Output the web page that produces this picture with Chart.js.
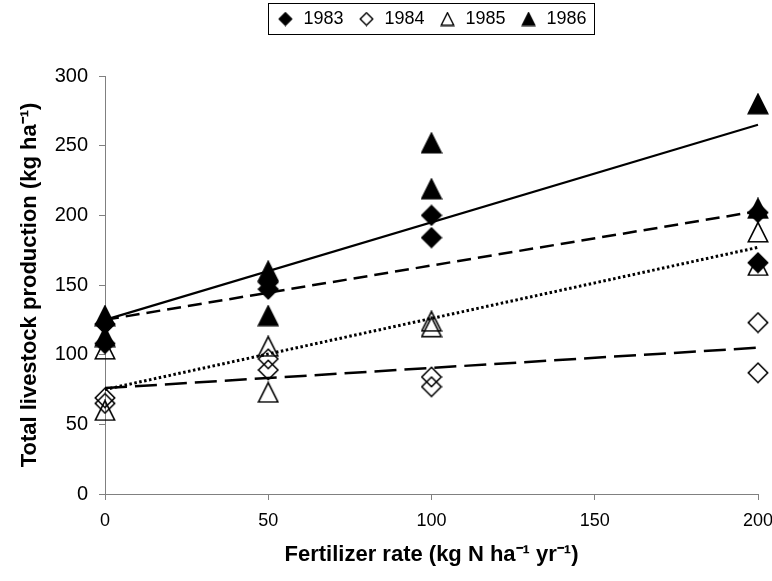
<!DOCTYPE html>
<html>
<head>
<meta charset="utf-8">
<script src="https://cdn.jsdelivr.net/npm/chart.js@4"></script>
<style>
html,body{margin:0;padding:0;background:#fff;}
#wrap{width:772px;height:581px;position:relative;}
</style>
</head>
<body>
<div id="wrap"><canvas id="c" width="772" height="581"></canvas></div>
<script>
// ---- data ----
const fertRates = [0, 50, 100, 200];
const yearLabels = ['1983', '1984', '1985', '1986'];
const y1983a = [122, 152, 200, 202];
const y1983b = [108, 147, 184, 166];
const y1984a = [69, 97, 84, 123];
const y1984b = [65, 89, 77, 87];
const y1985a = [104, 106, 124, 188];
const y1985b = [60, 73, 120, 164];
const y1986a = [128, 160, 252, 280];
const y1986b = [113, 128, 219, 205];
const trendX = [0, 200];
const trend1983 = [125, 203];
const trend1984 = [76, 105];
const trend1985 = [75, 177];
const trend1986 = [125, 265];
const xTicks = [0, 50, 100, 150, 200];
const yTicks = [0, 50, 100, 150, 200, 250, 300];

// ---- marker images ----
function marker(shape, filled, size, lw) {
  const cv = document.createElement('canvas');
  cv.width = size; cv.height = size;
  const g = cv.getContext('2d');
  const p = lw / 2 + 0.5, s = size;
  g.beginPath();
  if (shape === 'tri') {
    g.moveTo(s / 2, p); g.lineTo(s - p, s - p); g.lineTo(p, s - p); g.closePath();
  } else {
    g.moveTo(s / 2, p); g.lineTo(s - p, s / 2); g.lineTo(s / 2, s - p); g.lineTo(p, s / 2); g.closePath();
  }
  g.lineJoin = 'miter';
  if (filled) { g.fillStyle = '#000'; g.fill(); }
  g.strokeStyle = '#000'; g.lineWidth = lw; g.stroke();
  return cv;
}
const mk = {
  '1983': marker('dia', true, 22, 1.5),
  '1984': marker('dia', false, 22, 1.6),
  '1985': marker('tri', false, 22, 1.6),
  '1986': marker('tri', true, 22, 1.5)
};
const mkSmall = {
  '1983': marker('dia', true, 15, 1.2),
  '1984': marker('dia', false, 15, 1.4),
  '1985': marker('tri', false, 15, 1.4),
  '1986': marker('tri', true, 15, 1.2)
};

function pts(xs, ys) { return xs.map((x, i) => ({x: x, y: ys[i]})); }
function both(a, b) { return pts(fertRates, a).concat(pts(fertRates, b)); }

const scatterSets = [
  {label: '1983', data: both(y1983a, y1983b)},
  {label: '1984', data: both(y1984a, y1984b)},
  {label: '1985', data: both(y1985a, y1985b)},
  {label: '1986', data: both(y1986a, y1986b)}
].map(d => Object.assign(d, {
  type: 'scatter', pointStyle: mk[d.label], pointRadius: 11, borderColor: '#000', backgroundColor: '#000', order: 1, clip: false
}));

const trendSets = [
  {label: 't1983', data: pts(trendX, trend1983), borderDash: [14, 7], borderWidth: 2.5},
  {label: 't1984', data: pts(trendX, trend1984), borderDash: [22, 8], borderWidth: 2.5},
  {label: 't1985', data: pts(trendX, trend1985), borderDash: [2.5, 2.5], borderWidth: 3},
  {label: 't1986', data: pts(trendX, trend1986), borderDash: [], borderWidth: 2.2}
].map(d => Object.assign(d, {
  type: 'line', borderColor: '#000', pointRadius: 0, fill: false, tension: 0, order: 2, clip: false
}));

const legendBox = {
  id: 'legendBox',
  afterInit(chart) {
    const lg = chart.legend;
    if (lg && !lg._patched) {
      const f = lg.fit;
      lg.fit = function () { f.call(this); this.height += 38; };
      lg._patched = true;
    }
  },
  afterDraw(chart) {
    const lg = chart.legend;
    if (!lg || !lg.legendHitBoxes || !lg.legendHitBoxes.length) return;
    const hb = lg.legendHitBoxes;
    let l = Infinity, r = -Infinity, t = Infinity, b = -Infinity;
    hb.forEach(h => { l = Math.min(l, h.left); r = Math.max(r, h.left + h.width); t = Math.min(t, h.top); b = Math.max(b, h.top + h.height); });
    const ctx = chart.ctx;
    ctx.save();
    ctx.strokeStyle = '#000'; ctx.lineWidth = 1;
    ctx.strokeRect(Math.round(l - 8) + 0.5, Math.round(t - 7) + 0.5, Math.round(r - l + 16), Math.round(b - t + 13));
    ctx.restore();
  }
};

const FONT = "'Liberation Sans', Arial, sans-serif";
Chart.defaults.font.family = FONT;
Chart.defaults.color = '#000';

new Chart(document.getElementById('c'), {
  type: 'scatter',
  data: {datasets: scatterSets.concat(trendSets)},
  options: {
    responsive: false,
    animation: false,
    devicePixelRatio: 1,
    layout: {padding: {left: 0, right: 14, top: -4, bottom: 0}},
    plugins: {
      tooltip: {enabled: false},
      legend: {
        position: 'top',
        fullSize: false,
        labels: {
          usePointStyle: true,
          font: {size: 18, family: FONT},
          color: '#000',
          padding: 14,
          boxHeight: 14,
          generateLabels: (chart) => yearLabels.map((y, i) => ({
            text: y, pointStyle: mkSmall[y], datasetIndex: i, hidden: false,
            fillStyle: '#000', strokeStyle: '#000', lineWidth: 0, fontColor: '#000'
          }))
        }
      }
    },
    scales: {
      x: {
        type: 'linear', min: 0, max: 200,
        afterBuildTicks: (s) => { s.ticks = xTicks.map(v => ({value: v})); },
        afterFit: (s) => { s.height = 87; s.paddingLeft = 0; s.paddingRight = 0; },
        grid: {drawOnChartArea: false, drawTicks: true, tickLength: 6, color: '#808080'},
        border: {color: '#808080', width: 1},
        ticks: {font: {size: 18}, color: '#000', padding: 10, maxRotation: 0},
        title: {display: true, text: 'Fertilizer rate (kg N ha⁻¹ yr⁻¹)', font: {size: 22, weight: 'bold'}, color: '#000', padding: {top: 0, bottom: 13}}
      },
      y: {
        type: 'linear', min: 0, max: 300,
        afterBuildTicks: (s) => { s.ticks = yTicks.map(v => ({value: v})); },
        afterFit: (s) => { s.width = 105; s.paddingTop = 0; s.paddingBottom = 0; },
        grid: {drawOnChartArea: false, drawTicks: true, tickLength: 6, color: '#808080'},
        border: {color: '#808080', width: 1},
        ticks: {font: {size: 20}, color: '#000', padding: 11},
        title: {display: true, text: 'Total livestock production (kg ha⁻¹)', font: {size: 22, weight: 'bold'}, color: '#000', padding: {top: 17, bottom: 0}}
      }
    }
  },
  plugins: [legendBox]
});
</script>
</body>
</html>
